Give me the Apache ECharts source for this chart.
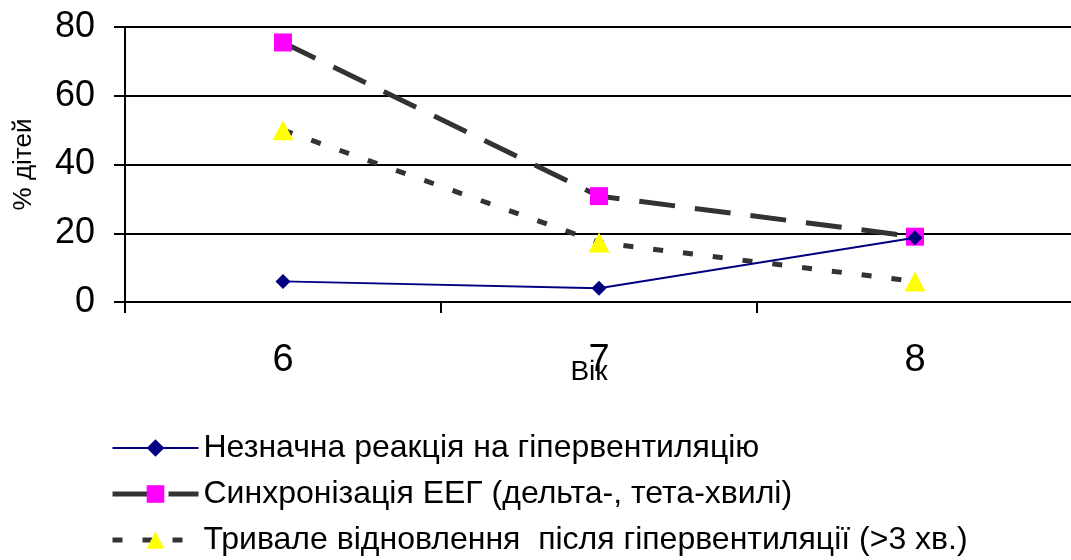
<!DOCTYPE html>
<html>
<head>
<meta charset="utf-8">
<script src="https://cdn.jsdelivr.net/npm/echarts@6/dist/echarts.min.js"></script>
<style>
  html, body { margin: 0; padding: 0; background: #fff; }
  #chart { width: 1071px; height: 560px; }
</style>
</head>
<body>
<div id="chart"></div>
<script>
// Вік дітей (роки)
const ages = ['6', '7', '8'];

// Частка дітей (%) за кожною ознакою
const weakReaction = [6, 4, 18.7];      // Незначна реакція на гіпервентиляцію
const eegSync = [75.5, 30.8, 19];       // Синхронізація ЕЕГ (дельта-, тета-хвилі)
const longRecovery = [50, 17.3, 6];     // Тривале відновлення після гіпервентиляції

const seriesNames = [
  'Незначна реакція на гіпервентиляцію',
  'Синхронізація ЕЕГ (дельта-, тета-хвилі)',
  'Тривале відновлення  після гіпервентиляції (>3 хв.)'
];

const yTicks = { min: 0, max: 80, step: 20 };

const font = '"Liberation Sans", Arial, sans-serif';

// line looks shared by each series and its legend entry
const styles = [
  { line: { color: '#000080', width: 2, type: 'solid' }, item: { color: '#000080' }, symbol: 'diamond', size: 15 },
  { line: { color: '#333333', width: 5, type: [36, 20] }, item: { color: '#ff00ff' }, symbol: 'rect', size: 18 },
  { line: { color: '#333333', width: 5, type: [10, 20] }, item: { color: '#ffff00' }, symbol: 'triangle', size: [21, 20] }
];
const seriesData = [weakReaction, eegSync, longRecovery];

const chart = echarts.init(document.getElementById('chart'), null, { renderer: 'canvas' });

chart.setOption({
  animation: false,
  backgroundColor: '#ffffff',
  textStyle: { fontFamily: font, color: '#000' },
  grid: {
    left: 125, top: 27, right: -2, bottom: 258,
    containLabel: false,
    outerBoundsMode: 'none'
  },
  xAxis: {
    type: 'category',
    data: ages,
    boundaryGap: true,
    name: 'Вік',
    nameLocation: 'middle',
    nameGap: 56,
    nameMoveOverlap: false,
    nameTextStyle: { fontSize: 28, fontFamily: font, color: '#000', padding: [0, 20, 0, 0] },
    axisLine: { show: true, lineStyle: { color: '#000', width: 2 } },
    axisTick: { show: true, interval: 0, length: 11, lineStyle: { color: '#000', width: 2 } },
    axisLabel: { fontSize: 38, fontFamily: font, color: '#000', margin: 40, interval: 0 },
    splitLine: { show: false }
  },
  yAxis: {
    type: 'value',
    min: yTicks.min,
    max: yTicks.max,
    interval: yTicks.step,
    name: '% дітей',
    nameLocation: 'middle',
    nameGap: 88,
    nameRotate: 90,
    nameMoveOverlap: false,
    nameTextStyle: { fontSize: 26, fontFamily: font, color: '#000' },
    axisLine: { show: true, lineStyle: { color: '#000', width: 2 } },
    axisTick: { show: true, length: 11, lineStyle: { color: '#000', width: 2 } },
    axisLabel: { fontSize: 36, fontFamily: font, color: '#000', margin: 30 },
    splitLine: { show: true, lineStyle: { color: '#000', width: 2 } }
  },
  legend: {
    orient: 'vertical',
    left: 110,
    top: 432,
    height: 140,
    padding: 0,
    itemWidth: 86,
    itemHeight: 22,
    itemGap: 14,
    data: seriesNames.map((name, i) => ({
      name: name,
      lineStyle: Object.assign({}, styles[i].line),
      itemStyle: Object.assign({}, styles[i].item)
    })),
    textStyle: { fontSize: 32, fontFamily: font, color: '#000', lineHeight: 32, padding: [0, 0, 0, 0] }
  },
  series: seriesNames.map((name, i) => ({
    name: name,
    type: 'line',
    data: seriesData[i],
    symbol: styles[i].symbol,
    symbolSize: styles[i].size,
    lineStyle: styles[i].line,
    itemStyle: styles[i].item,
    z: i === 0 ? 3 : 2
  }))
});
</script>
</body>
</html>
